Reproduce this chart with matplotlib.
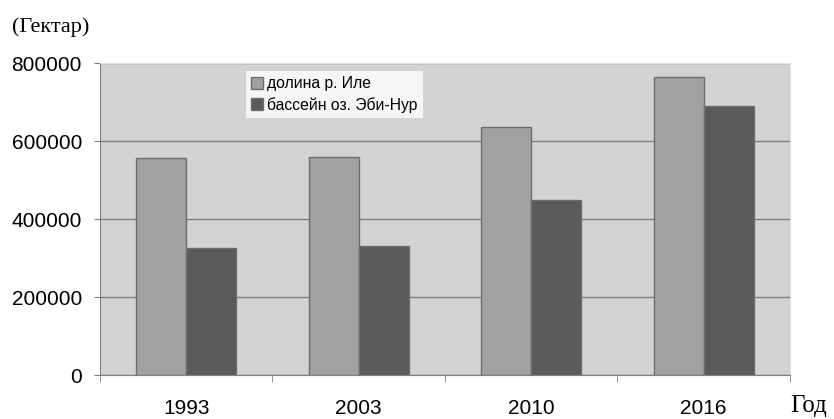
import numpy as np
import matplotlib.pyplot as plt
from matplotlib.patches import Patch

years = ['1993', '2003', '2010', '2016']
ile_valley = [556000, 559000, 636000, 764000]
ebinur_basin = [325000, 330000, 449000, 690000]
labels = ['долина р. Иле', 'бассейн оз. Эби-Нур']

plt.rcParams['font.family'] = ['Liberation Sans', 'DejaVu Sans']

fig = plt.figure(figsize=(8.34, 4.19), dpi=100)
ax = fig.add_axes([0.1199, 0.105, 0.8273, 0.7446])
ax.set_facecolor('#d3d3d3')

x = np.arange(len(years))
w = 0.29
ax.bar(x - w/2, ile_valley, w, color='#a1a1a1', edgecolor='#6e6e6e', linewidth=1, zorder=3)
ax.bar(x + w/2, ebinur_basin, w, color='#5a5a5a', edgecolor='#6e6e6e', linewidth=1, zorder=3)

ax.set_xlim(-0.5, len(years) - 0.5)
ax.set_ylim(0, 800000)
ax.set_yticks(np.arange(0, 800001, 200000))
ax.yaxis.grid(True, color='#808080', linewidth=1, zorder=1)

# year labels in the middle, ticks on the category boundaries
ax.set_xticks(x)
ax.set_xticklabels(years, fontsize=15)
ax.tick_params(axis='x', length=0, pad=17)
ax.set_xticks(np.arange(-0.5, len(years)), minor=True)
ax.tick_params(axis='x', which='minor', length=5, color='#808080', direction='out')
ax.tick_params(axis='y', labelsize=15, length=4, color='#808080', pad=9)

for side in ['top', 'right']:
    ax.spines[side].set_color('#e0e0e0')
for side in ['left', 'bottom']:
    ax.spines[side].set_color('#808080')

handles = [Patch(facecolor='#a1a1a1', edgecolor='#6e6e6e'),
           Patch(facecolor='#5a5a5a', edgecolor='#6e6e6e')]
leg = ax.legend(handles, labels, loc='upper left', bbox_to_anchor=(0.2116, 0.975),
                fontsize=11.3, frameon=True, fancybox=False, handlelength=0.75,
                handleheight=0.75, handletextpad=0.25, borderpad=0.35,
                labelspacing=0.35, borderaxespad=0)
leg.get_frame().set_edgecolor('white')
leg.get_frame().set_linewidth(0)

fig.text(0.014, 0.936, '(Гектар)', fontsize=16, family='Liberation Serif', va='center')
fig.text(0.947, 0.031, 'Год', fontsize=18, family='Liberation Serif', va='center')

fig.savefig('out.png', dpi=100)
